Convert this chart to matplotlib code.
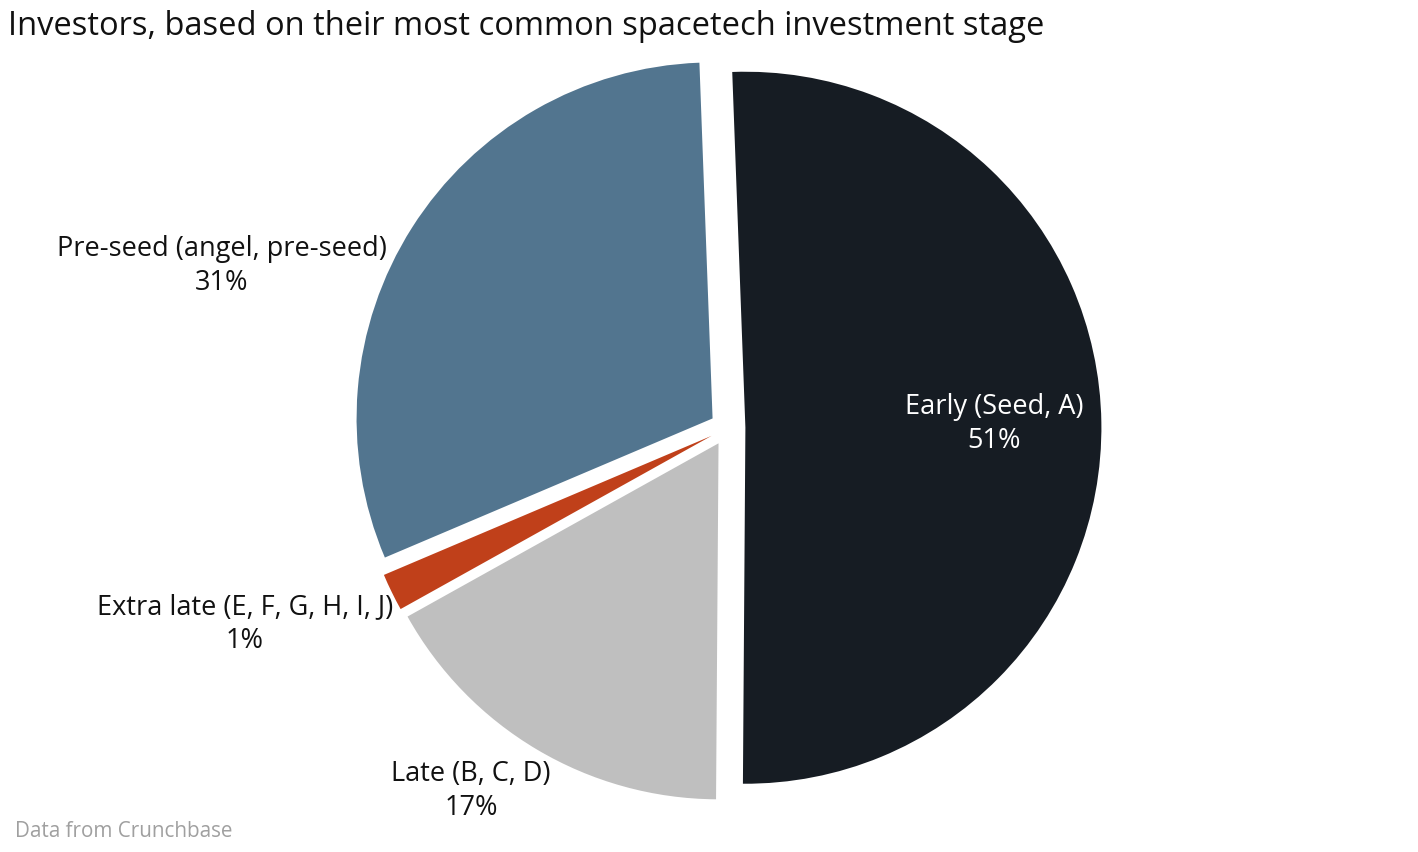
import matplotlib.pyplot as plt

stages = ["Early (Seed, A)", "Pre-seed (angel, pre-seed)", "Extra late (E, F, G, H, I, J)", "Late (B, C, D)"]
shares = [50.7, 30.8, 1.7, 16.8]
pct_labels = ["51%", "31%", "1%", "17%"]
colors = ["#161c23", "#52758f", "#c0401a", "#bfbfbf"]

W, H = 1418, 852
R_PX = 356
CX, CY = 727.6, 428  # pie centre, pixels from top-left

# label anchors in pixels (layout only)
label_px = [(994, 424), (222, 266), (245, 624), (471, 791)]
label_colors = ["white", "#111111", "#111111", "#111111"]

plt.rcParams["font.family"] = ["Open Sans", "DejaVu Sans"]

fig = plt.figure(figsize=(W / 100, H / 100), dpi=100)
ax = fig.add_axes([0, 0, 1, 1])

ax.pie(shares, colors=colors, startangle=-90.4, counterclock=True,
       explode=[0.05] * len(shares), radius=1,
       wedgeprops=dict(linewidth=0))

ax.set_xlim(-CX / R_PX, (W - CX) / R_PX)
ax.set_ylim(-(H - CY) / R_PX, CY / R_PX)
ax.set_aspect("auto")
ax.axis("off")

for name, pct, (px, py), c in zip(stages, pct_labels, label_px, label_colors):
    ax.text((px - CX) / R_PX, (CY - py) / R_PX, f"{name}\n{pct}",
            ha="center", va="center", multialignment="center",
            fontsize=19.5, color=c, linespacing=1.3)

fig.text(8 / W, 1 - 35 / H, "Investors, based on their most common spacetech investment stage",
         ha="left", va="baseline", fontsize=23.5, color="#111111", weight="medium")
fig.text(15 / W, 1 - 837 / H, "Data from Crunchbase",
         ha="left", va="baseline", fontsize=14.9, color="#a0a0a0")

fig.savefig("out.png", dpi=100)
